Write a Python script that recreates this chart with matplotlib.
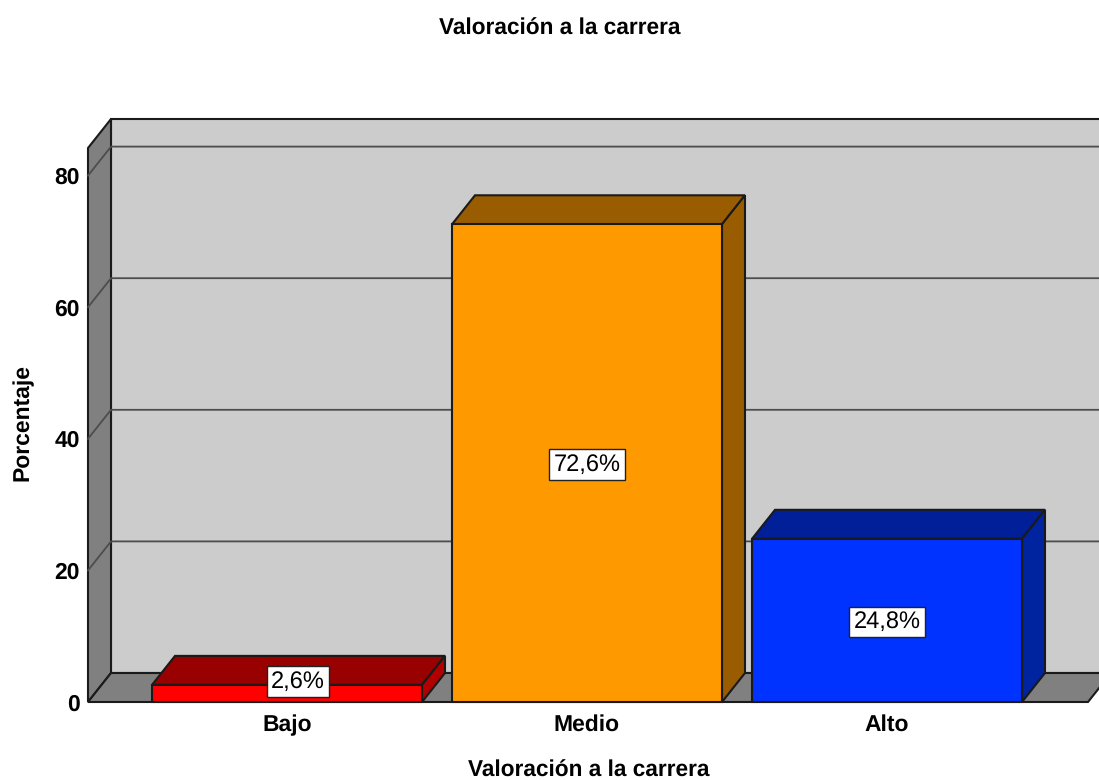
#Valoracion a la carrera - fake 3D bars
import matplotlib
matplotlib.use('Agg')
import matplotlib.pyplot as plt

categories = ['Bajo', 'Medio', 'Alto']
values = [2.6, 72.6, 24.8]
value_labels = ['2,6%', '72,6%', '24,8%']
yticks = [0, 20, 40, 60, 80]
face_colors = ['#ff0000', '#ff9900', '#0033ff']
top_colors = ['#990000', '#995c00', '#001f99']
side_colors = ['#b20000', '#995c00', '#00239f']

plt.rcParams['font.family'] = ['Liberation Sans', 'DejaVu Sans']
plt.rcParams['font.weight'] = 'bold'
plt.rcParams['text.hinting'] = 'no_hinting'

W, H = 1099, 780
scale = 6.58  # pixels per percent
fig = plt.figure(figsize=(W / 100, H / 100), dpi=100)
ax = fig.add_axes([88 / W, (H - 702) / H, 1000 / W, 554 / H])
ax.set_xlim((88 - 287) / 300, (1088 - 287) / 300)
ax.set_ylim(0, 554 / scale)

# depth of the fake 3D box, in data units
dx = 23 / 300
dy = 29 / scale
x0, x1 = ax.get_xlim()
y1 = ax.get_ylim()[1]
dark = '#1a1a1a'


def poly(xs, ys, color, edge=dark, z=1, lw=1.5):
    ax.fill(xs, ys, facecolor=color, edgecolor=edge, linewidth=lw, zorder=z,
            clip_on=False, joinstyle='miter')


poly([x0 + dx, x1 + dx, x1 + dx, x0 + dx], [dy, dy, y1 + dy, y1 + dy], '#cccccc')
poly([x0, x0 + dx, x0 + dx, x0], [0, dy, y1 + dy, y1], '#808080')
poly([x0, x1, x1 + dx, x0 + dx], [0, 0, dy, dy], '#808080')

for t in yticks[1:]:
    ax.plot([x0, x0 + dx, x1 + dx], [t, t + dy, t + dy], color='#4d4d4d',
            linewidth=1.3, zorder=1.5, clip_on=False)

width = 0.9
for i, v in enumerate(values):
    l, r = i - width / 2, i + width / 2
    poly([l, r, r + dx, l + dx], [v, v, v + dy, v + dy], top_colors[i], z=2)
    poly([r, r + dx, r + dx, r], [0, dy, v + dy, v], side_colors[i], z=2)
    poly([l, r, r, l], [0, 0, v, v], face_colors[i], z=3)
    # small bar gets its label moved up, onto the top face
    if v < 10:
        tx, ty = i + 11 / 300, 3.1
    else:
        tx, ty = i, v / 2 - 0.2
    ax.text(tx, ty, value_labels[i], ha='center', va='center', fontsize=17,
            fontweight='normal', color='black', zorder=5,
            bbox=dict(boxstyle='square,pad=0.17', facecolor='white',
                      edgecolor='#222222', linewidth=1))

ax.set_xticks(range(len(categories)), categories)
ax.set_yticks(yticks)
ax.tick_params(length=0, labelsize=16.5, colors='black')
ax.tick_params(axis='x', pad=9)
ax.tick_params(axis='y', pad=6)
for s in ax.spines.values():
    s.set_visible(False)
ax.patch.set_visible(False)

fig.text(560 / W, 1 - 29 / H, 'Valoración a la carrera', ha='center', va='center', fontsize=16.3)
fig.text(589 / W, 1 - 771 / H, 'Valoración a la carrera', ha='center', va='center', fontsize=16.3)
fig.text(23 / W, 1 - 423 / H, 'Porcentaje', ha='center', va='center', rotation=90, fontsize=16.5)

fig.savefig('out.png', dpi=100)
